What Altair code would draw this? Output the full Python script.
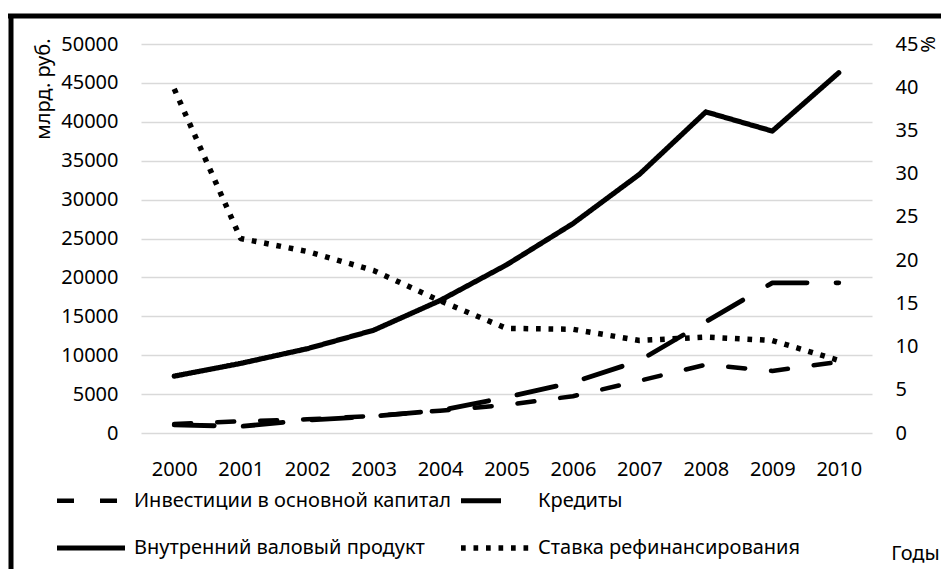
import altair as alt
import pandas as pd

years = ["2000", "2001", "2002", "2003", "2004", "2005", "2006", "2007", "2008", "2009", "2010"]
investments = [1165, 1505, 1762, 2187, 2865, 3611, 4731, 6716, 8782, 7976, 9152]
credits = [1050, 850, 1650, 2150, 2900, 4600, 6500, 9300, 14300, 19300, 19300]
gdp = [7306, 8944, 10831, 13208, 17027, 21610, 26917, 33248, 41277, 38807, 46309]
rate = [39.8, 22.5, 21.0, 18.8, 15.3, 12.1, 12.0, 10.7, 11.1, 10.7, 8.4]

series_names = [
    "Инвестиции в основной капитал",
    "Кредиты",
    "Внутренний валовый продукт",
    "Ставка рефинансирования",
]
left_ticks = list(range(0, 50001, 5000))
right_ticks = list(range(0, 46, 5))

dash_patterns = [[17, 26], [40, 29], [1, 0], [4.7, 7.8]]
stroke_widths = [4.5, 5.5, 4, 4.7]

FONT = "Noto Sans"
FS = 20

left_rows = []
for name, vals in zip(series_names[:3], [investments, credits, gdp]):
    for y, v in zip(years, vals):
        left_rows.append({"year": y, "value": v, "series": name})
left_df = pd.DataFrame(left_rows)
right_df = pd.DataFrame({"year": years, "value": rate, "series": series_names[3]})

dash_scale = alt.Scale(domain=series_names, range=dash_patterns)
width_scale = alt.Scale(domain=series_names, range=stroke_widths)

x_enc = alt.X(
    "year:O",
    sort=years,
    axis=alt.Axis(
        labelAngle=0, ticks=False, domain=False, labelPadding=26,
        labelFontSize=FS, labelFont=FONT, labelColor="black",
        title="Годы", titleFont=FONT, titleFontSize=FS, titleFontWeight="normal",
        titleColor="black", titleX=774, titleY=120, titleAlign="center",
        titleBaseline="middle",
    ),
)

legend = alt.Legend(
    title=None, orient="none", direction="horizontal", legendX=-87, legendY=420,
    columns=2, symbolType="stroke", symbolSize=68 * 68, symbolStrokeWidth=4.5,
    symbolStrokeColor="black", labelFont=FONT, labelFontSize=FS,
    labelColor="black", labelOffset=6, rowPadding=-21, columnPadding=-2,
    labelLimit=500,
)

left = alt.Chart(left_df).mark_line(color="black", strokeCap="round", strokeJoin="round").encode(
    x=x_enc,
    y=alt.Y(
        "value:Q",
        scale=alt.Scale(domain=[0, 50000], nice=False),
        axis=alt.Axis(
            values=left_ticks, format="d", ticks=False, domain=False,
            grid=True, gridColor="#d9d9d9", gridWidth=1.3,
            labelFont=FONT, labelFontSize=FS, labelColor="black", labelPadding=23,
            title="млрд. руб.", titleFont=FONT, titleFontSize=FS,
            titleFontWeight="normal", titleColor="black", titleAngle=270,
            titleAlign="right", titleBaseline="alphabetic", titleX=-92, titleY=-6,
        ),
    ),
    strokeDash=alt.StrokeDash("series:N", scale=dash_scale, legend=legend),
    strokeWidth=alt.StrokeWidth("series:N", scale=width_scale, legend=None),
    detail="series:N",
)

right = alt.Chart(right_df).mark_line(color="black", strokeCap="butt", strokeJoin="round").encode(
    x=x_enc,
    y=alt.Y(
        "value:Q",
        scale=alt.Scale(domain=[0, 45], nice=False),
        axis=alt.Axis(
            orient="right", values=right_ticks, ticks=False, domain=False,
            grid=False, labelFont=FONT, labelFontSize=FS, labelColor="black",
            labelPadding=23, title="%", titleFont=FONT, titleFontSize=FS,
            titleFontWeight="normal", titleColor="black", titleAngle=270,
            titleAlign="center", titleBaseline="middle", titleX=56, titleY=0,
        ),
    ),
    strokeDash=alt.StrokeDash("series:N", scale=dash_scale, legend=legend),
    strokeWidth=alt.StrokeWidth("series:N", scale=width_scale, legend=None),
)

frame_df = pd.DataFrame({"k": [0]})
frame_top = alt.Chart(frame_df).mark_rule(color="black", strokeWidth=5).encode(
    x=alt.value(-133), x2=alt.value(900), y=alt.value(-28), y2=alt.value(-28)
)
frame_left = alt.Chart(frame_df).mark_rule(color="black", strokeWidth=5).encode(
    x=alt.value(-130), x2=alt.value(-130), y=alt.value(-30), y2=alt.value(600)
)

chart = (
    alt.layer(left, right, frame_top, frame_left)
    .resolve_scale(y="independent")
    .properties(
        width=731, height=389,
        autosize=alt.AutoSizeParams(type="none"),
        padding={"left": 133, "top": 36, "right": 69, "bottom": 136},
        background="white",
    )
    .configure_view(stroke=None)
)

chart.save("out.html", embed_options={"renderer": "svg", "actions": False})
